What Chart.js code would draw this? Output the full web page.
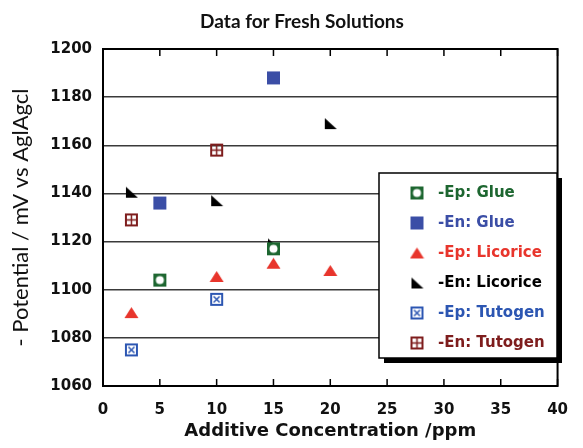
<!DOCTYPE html>
<html>
<head>
    <title>Data for Fresh Solutions</title>
    <script src="https://cdn.jsdelivr.net/npm/chart.js"></script>
    <style>
        body { margin: 0; background: #fff; }
        #wrap { width: 583px; height: 448px; }
    </style>
</head>
<body>
    <div id="wrap">
        <canvas id="freshChart"></canvas>
    </div>

    <script>
        // values
        const seriesLabels = ['-Ep: Glue', '-En: Glue', '-Ep: Licorice', '-En: Licorice', '-Ep: Tutogen', '-En: Tutogen'];
        const epGlueConc = [5, 15];
        const epGlueMv = [1104, 1117];
        const enGlueConc = [5, 15];
        const enGlueMv = [1136, 1188];
        const epLicoriceConc = [2.5, 10, 15, 20];
        const epLicoriceMv = [1090.5, 1105.5, 1111, 1108];
        const enLicoriceConc = [2.5, 10, 15, 20];
        const enLicoriceMv = [1140.5, 1137, 1119, 1169];
        const epTutogenConc = [2.5, 10];
        const epTutogenMv = [1075, 1096];
        const enTutogenConc = [2.5, 10];
        const enTutogenMv = [1129, 1158];
        const xTicks = [0, 5, 10, 15, 20, 25, 30, 35, 40];
        const yTicks = [1060, 1080, 1100, 1120, 1140, 1160, 1180, 1200];

        const colors = ['#1d6630', '#3b4ea6', '#e8352c', '#000000', '#2c56b2', '#7e1d1d'];
        const markerKinds = ['ringSquare', 'square', 'triangle', 'rightTri', 'xSquare', 'plusSquare'];

        function makeMarker(kind, color) {
            const c = document.createElement('canvas');
            const s = 15;
            c.width = s; c.height = s;
            const g = c.getContext('2d');
            g.fillStyle = color;
            g.strokeStyle = color;
            if (kind === 'square') {
                g.fillRect(1, 1, 13, 13);
            } else if (kind === 'ringSquare') {
                g.fillRect(1, 1, 13, 13);
                g.fillStyle = '#fff';
                g.beginPath();
                g.arc(7.5, 7.5, 4, 0, Math.PI * 2);
                g.fill();
            } else if (kind === 'triangle') {
                g.beginPath();
                g.moveTo(7.5, 2);
                g.lineTo(14.5, 13);
                g.lineTo(0.5, 13);
                g.closePath();
                g.fill();
            } else if (kind === 'rightTri') {
                g.beginPath();
                g.moveTo(2, 2);
                g.lineTo(14, 13);
                g.lineTo(2, 13);
                g.closePath();
                g.fill();
            } else if (kind === 'xSquare' || kind === 'plusSquare') {
                g.lineWidth = 2;
                g.strokeRect(2, 2, 11, 11);
                g.lineWidth = 1.5;
                g.beginPath();
                if (kind === 'xSquare') {
                    g.moveTo(4.5, 4.5); g.lineTo(10.5, 10.5);
                    g.moveTo(10.5, 4.5); g.lineTo(4.5, 10.5);
                } else {
                    g.moveTo(7.5, 3); g.lineTo(7.5, 12);
                    g.moveTo(3, 7.5); g.lineTo(12, 7.5);
                }
                g.stroke();
            }
            return c;
        }

        const markers = markerKinds.map((k, i) => makeMarker(k, colors[i]));

        function toPoints(xs, ys) {
            return xs.map((x, i) => ({ x: x, y: ys[i] }));
        }

        const seriesData = [
            toPoints(epGlueConc, epGlueMv),
            toPoints(enGlueConc, enGlueMv),
            toPoints(epLicoriceConc, epLicoriceMv),
            toPoints(enLicoriceConc, enLicoriceMv),
            toPoints(epTutogenConc, epTutogenMv),
            toPoints(enTutogenConc, enTutogenMv)
        ];

        const datasets = seriesLabels.map((label, i) => ({
            label: label,
            data: seriesData[i],
            pointStyle: markers[i],
            backgroundColor: colors[i],
            borderColor: colors[i]
        }));

        // frame, inward ticks, title and the boxed legend
        const decorPlugin = {
            id: 'decor',
            beforeDatasetsDraw(chart) {
                const { ctx, chartArea: a, scales } = chart;
                ctx.save();
                ctx.strokeStyle = '#000';
                ctx.lineWidth = 2;
                ctx.strokeRect(a.left, a.top, a.right - a.left, a.bottom - a.top);
                ctx.lineWidth = 1.5;
                xTicks.forEach(v => {
                    const px = scales.x.getPixelForValue(v);
                    ctx.beginPath();
                    ctx.moveTo(px, a.top); ctx.lineTo(px, a.top + 7);
                    ctx.moveTo(px, a.bottom); ctx.lineTo(px, a.bottom - 7);
                    ctx.stroke();
                });
                ctx.fillStyle = '#111';
                ctx.font = 'bold 19px Lato, "DejaVu Sans", sans-serif';
                ctx.textAlign = 'center';
                ctx.textBaseline = 'middle';
                ctx.fillText('Data for Fresh Solutions', 302, 22);
                ctx.restore();
            },
            afterDatasetsDraw(chart) {
                const ctx = chart.ctx;
                const bx = 379, by = 173, bw = 178, bh = 185;
                ctx.save();
                ctx.fillStyle = '#000';
                ctx.fillRect(bx + 5, by + 5, bw, bh);
                ctx.fillStyle = '#fff';
                ctx.fillRect(bx, by, bw, bh);
                ctx.strokeStyle = '#000';
                ctx.lineWidth = 1.5;
                ctx.strokeRect(bx, by, bw, bh);
                ctx.font = 'bold 15px "DejaVu Sans", sans-serif';
                ctx.textBaseline = 'middle';
                chart.data.datasets.forEach((ds, i) => {
                    const y = 193 + i * 30;
                    ctx.drawImage(ds.pointStyle, 417 - 7.5, y - 7.5);
                    ctx.fillStyle = ds.borderColor;
                    ctx.fillText(ds.label, 438, y);
                });
                ctx.restore();
            }
        };

        const tickFont = { family: '"DejaVu Sans", sans-serif', size: 15, weight: 'bold' };

        const ctx = document.getElementById('freshChart').getContext('2d');
        new Chart(ctx, {
            type: 'scatter',
            data: { datasets: datasets },
            options: {
                responsive: true,
                maintainAspectRatio: false,
                animation: false,
                layout: { padding: { top: 49, right: 16, left: 0, bottom: 0 } },
                elements: { point: { radius: 7, hoverRadius: 7 } },
                plugins: {
                    legend: { display: false },
                    tooltip: { enabled: false }
                },
                scales: {
                    x: {
                        type: 'linear',
                        min: 0,
                        max: 40,
                        afterFit: s => { s.height = 62; },
                        afterBuildTicks: s => { s.ticks = xTicks.map(v => ({ value: v })); },
                        grid: { display: false, drawTicks: false },
                        border: { display: true, color: '#000', width: 2 },
                        ticks: { color: '#111', font: tickFont, padding: 15, maxRotation: 0, callback: v => String(v) },
                        title: {
                            display: true,
                            text: 'Additive Concentration /ppm',
                            color: '#111',
                            font: { family: '"DejaVu Sans", sans-serif', size: 18, weight: 'bold' },
                            padding: { top: 4, bottom: 6 }
                        }
                    },
                    y: {
                        type: 'linear',
                        min: 1060,
                        max: 1200,
                        afterFit: s => { s.width = 103; },
                        afterBuildTicks: s => { s.ticks = yTicks.map(v => ({ value: v })); },
                        grid: { color: '#3a3a3a', lineWidth: 1.5, drawTicks: false },
                        border: { display: true, color: '#000', width: 2 },
                        ticks: { color: '#111', font: tickFont, padding: 11, callback: v => String(v) },
                        title: {
                            display: true,
                            text: '- Potential / mV vs AglAgcl',
                            color: '#111',
                            font: { family: 'Lato, "Open Sans", sans-serif', size: 22, weight: 'normal' },
                            padding: { top: 8, bottom: 4 }
                        }
                    }
                }
            },
            plugins: [decorPlugin]
        });
    </script>
</body>
</html>
